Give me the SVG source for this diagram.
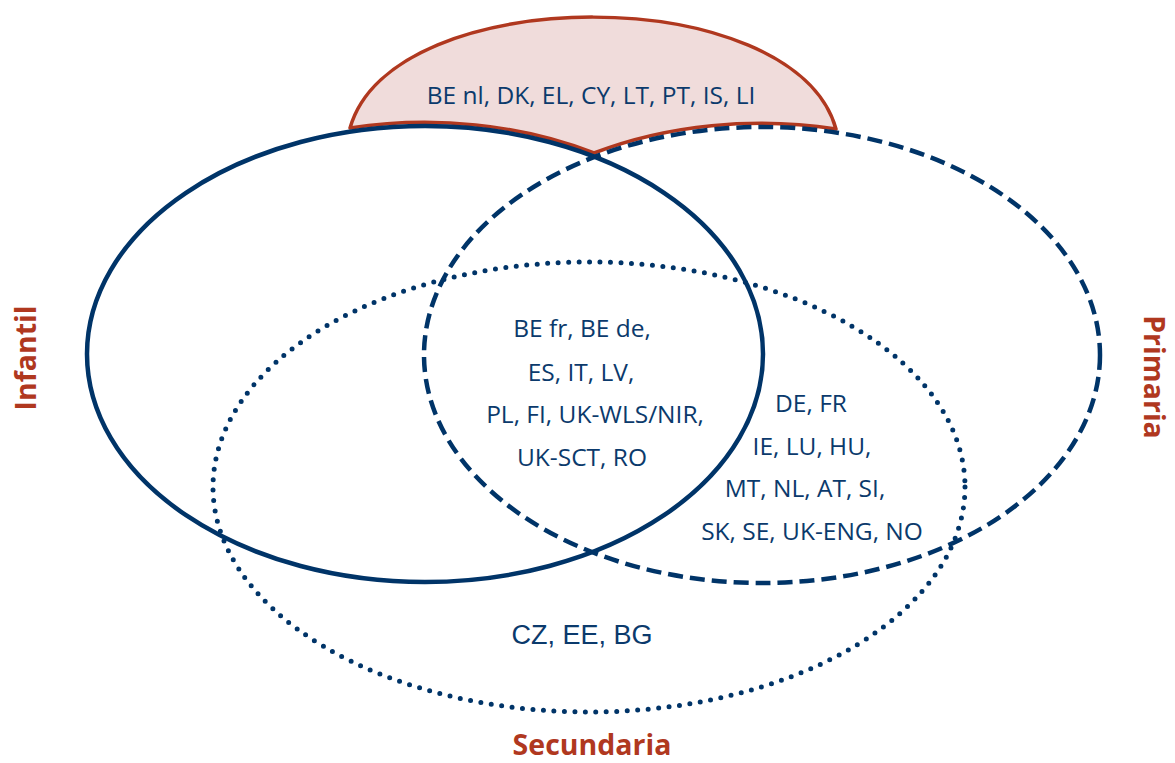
<svg xmlns="http://www.w3.org/2000/svg" width="1175" height="763" viewBox="0 0 1175 763">
<style>
.set{fill:none;stroke:#003468;stroke-width:4.5}
.dash{stroke-dasharray:15 7}
.dot{stroke-width:5;stroke-linecap:round;stroke-dasharray:0 10.5}
.t{font-family:"Open Sans","Noto Sans",sans-serif;font-size:24.5px;fill:#0b3a6c;text-anchor:middle}
.a{font-family:"Liberation Sans",Arial,sans-serif;font-size:27px;fill:#0b3a6c;text-anchor:middle}
.h{font-family:"Open Sans","Noto Sans",sans-serif;font-size:28.5px;font-weight:bold;fill:#b0381f;text-anchor:middle}
</style>
<rect width="1175" height="763" fill="#ffffff"/>
<g id="only-infantil-primaria-region">
<path d="M350,128 C392,-20 794,-20 836,129 A338,228 0 0 0 594,153 A338,228 0 0 0 350,128 Z" fill="#f0dcdb" stroke="#b0381f" stroke-width="3.5" stroke-linejoin="round"/>
<text class="t" x="591" y="104">BE nl, DK, EL, CY, LT, PT, IS, LI</text>
</g>
<g id="secundaria">
<ellipse class="set dot" cx="589" cy="487" rx="376" ry="225"/>
<text class="h" x="592" y="755">Secundaria</text>
</g>
<g id="infantil">
<ellipse class="set" cx="425" cy="354" rx="338" ry="228"/>
<text class="h" transform="translate(36,358) rotate(-90)" x="0" y="0">Infantil</text>
</g>
<g id="primaria">
<ellipse class="set dash" cx="762" cy="355" rx="338" ry="228"/>
<text class="h" transform="translate(1144,377) rotate(90)" x="0" y="0">Primaria</text>
</g>
<g id="all-three">
<text class="t" x="582" y="337">BE fr, BE de,</text>
<text class="t" x="581" y="381">ES, IT, LV,</text>
<text class="t" x="595" y="423">PL, FI, UK-WLS/NIR,</text>
<text class="t" x="582" y="466">UK-SCT, RO</text>
</g>
<g id="primaria-secundaria">
<text class="t" x="811" y="412">DE, FR</text>
<text class="t" x="812" y="455">IE, LU, HU,</text>
<text class="t" x="805" y="497">MT, NL, AT, SI,</text>
<text class="t" x="812" y="540">SK, SE, UK-ENG, NO</text>
</g>
<g id="only-secundaria">
<text class="a" x="582" y="644">CZ, EE, BG</text>
</g>
<g id="connectors"/>
</svg>
